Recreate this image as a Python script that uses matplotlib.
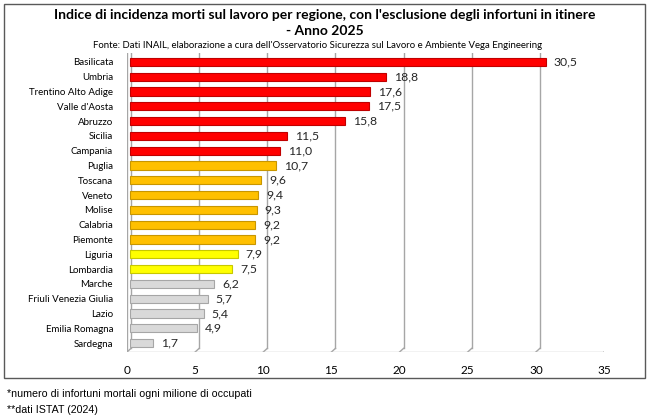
import matplotlib.pyplot as plt
from matplotlib.patches import Rectangle
import matplotlib.transforms as mtransforms

regions = ["Basilicata", "Umbria", "Trentino Alto Adige", "Valle d'Aosta", "Abruzzo",
           "Sicilia", "Campania", "Puglia", "Toscana", "Veneto", "Molise", "Calabria",
           "Piemonte", "Liguria", "Lombardia", "Marche", "Friuli Venezia Giulia",
           "Lazio", "Emilia Romagna", "Sardegna"]
values = [30.5, 18.8, 17.6, 17.5, 15.8, 11.5, 11.0, 10.7, 9.6, 9.4, 9.3, 9.2, 9.2,
          7.9, 7.5, 6.2, 5.7, 5.4, 4.9, 1.7]
bands = ["red"] * 7 + ["amber"] * 6 + ["yellow"] * 2 + ["grey"] * 5
xticks = [0, 5, 10, 15, 20, 25, 30, 35]

band_face = {"red": "#ff0000", "amber": "#ffc000", "yellow": "#ffff00", "grey": "#d9d9d9"}
band_edge = {"red": "#c00000", "amber": "#c89600", "yellow": "#c8c800", "grey": "#a6a6a6"}

fig = plt.figure(figsize=(6.5, 4.17), dpi=100)
ax = fig.add_axes([127 / 650, 1 - 352 / 417, 477 / 650, 299 / 417])

# frame around chart area
fig.patches.append(Rectangle((4 / 650, 1 - 378 / 417), 641 / 650, 374 / 417,
                             transform=fig.transFigure, fill=False,
                             edgecolor="#595959", linewidth=1.0))

# pseudo-3D gridlines (back wall shifted a few pixels right)
shift = mtransforms.offset_copy(ax.transData, fig=fig, x=4, y=0, units="dots")
bar_shift = mtransforms.offset_copy(ax.transData, fig=fig, x=3, y=0, units="dots")
for t in xticks:
    ax.plot([t, t], [-0.6, 19.35], color="#a6a6a6", lw=1.0, transform=shift, zorder=0)
    ax.plot([t, t + 0.3], [19.6, 19.35], color="#a6a6a6", lw=1.0, zorder=0)
ax.plot([0, 35], [19.6, 19.6], color="#bfbfbf", lw=1.0, zorder=0)
ax.plot([0, 0], [-0.6, 19.6], color="#a6a6a6", lw=1.0, zorder=0)

y = list(range(len(regions)))
ax.barh(y, values, height=0.55,
        color=[band_face[b] for b in bands],
        edgecolor=[band_edge[b] for b in bands], linewidth=0.8, zorder=3,
        transform=bar_shift)

for yi, v in zip(y, values):
    ax.annotate(f"{v:.1f}".replace(".", ","), (v, yi), xytext=(8, 0),
                textcoords="offset points", va="center", ha="left",
                fontsize=8.8, family="Lato", color="#262626")

ax.set_xlim(0, 35)
ax.set_ylim(19.6, -0.6)
ax.set_xticks(xticks)
ax.set_xticklabels([str(t) for t in xticks], fontsize=8.5, family="Lato")
ax.set_yticks(y)
ax.set_yticklabels(regions, fontsize=7, family="Lato")
ax.tick_params(length=0)
ax.tick_params(axis="x", pad=9)
ax.tick_params(axis="y", pad=10)
for s in ax.spines.values():
    s.set_visible(False)

fig.text(325 / 650, 1 - 15 / 417,
         "Indice di incidenza morti sul lavoro per regione, con l'esclusione degli infortuni in itinere",
         ha="center", va="center", fontsize=10, fontweight="bold", family="Lato")
fig.text(325 / 650, 1 - 31 / 417, "- Anno 2025",
         ha="center", va="center", fontsize=10, fontweight="bold", family="Lato")
fig.text(318 / 650, 1 - 45 / 417,
         "Fonte: Dati INAIL, elaborazione a cura dell'Osservatorio Sicurezza sul Lavoro e Ambiente Vega Engineering",
         ha="center", va="center", fontsize=6.9, family="Lato")

fig.text(7 / 650, 1 - 394 / 417, "*numero di infortuni mortali ogni milione di occupati",
         ha="left", va="center", fontsize=7.7, family="Liberation Sans")
fig.text(7 / 650, 1 - 410 / 417, "**dati ISTAT (2024)",
         ha="left", va="center", fontsize=7.7, family="Liberation Sans")

plt.savefig("out.png", dpi=100)
